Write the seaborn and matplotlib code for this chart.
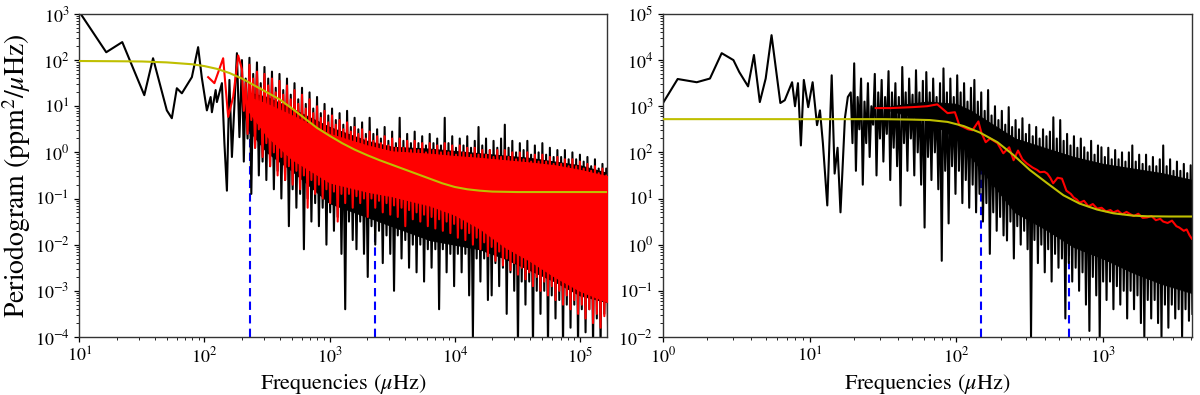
import numpy as np
import matplotlib
matplotlib.use("Agg")
import matplotlib.pyplot as plt
import seaborn as sns

# ---------------- data (log10 values) ----------------
# Left panel
L_black_low_logf = [1.0, 1.216, 1.344, 1.52, 1.59, 1.70, 1.74, 1.78, 1.82, 1.90, 1.95, 1.98, 2.02,
                    2.05, 2.06, 2.09, 2.10, 2.14, 2.16, 2.18, 2.20, 2.22, 2.26, 2.28]
L_black_low_logp = [3.05, 2.17, 2.39, 1.24, 2.04, 0.91, 0.74, 1.39, 1.28, 1.63, 2.28, 1.61, 0.91,
                    1.2, 0.87, 1.35, 1.09, 1.5, 0.2, -0.83, 1.57, -0.1, 2.15, 0.33]
L_dense_range = (2.30, 5.225)
L_black_peaks = [2.0, 1.6, 2.05, 1.7, 1.95, 1.5, 1.85, 1.6, 1.75, 1.4,
                 1.7, 1.35, 1.6, 1.25, 1.5, 1.15, 1.4, 1.05, 1.3, 0.95,
                 1.2, 0.85, 1.05, 0.8, 0.95, 0.7, 0.85, 0.6, 0.9, 0.55,
                 0.75, 0.5, 0.65, 0.4, 0.75, 0.4, 0.5, 0.3, 0.55, 0.25,
                 0.45, 0.2, 0.75, 0.25, 0.4, 0.2, 0.45, 0.2, 0.35, 0.15,
                 0.4, 0.2, 0.3, 0.15, 0.75, 0.2, 0.35, 0.1, 0.3, 0.15,
                 0.35, 0.1, 0.25, 0.55, 0.15, 0.3, 0.05, 0.25, 0.1, 0.3,
                 0.6, 0.1, 0.25, 0.0, 0.2, 0.05, 0.25, -0.05, 0.15, 0.0,
                 0.2, -0.05, 0.1, -0.1, 0.05, -0.1, 0.05, -0.15, 0.0, -0.15,
                 -0.05, -0.2, -0.1, -0.3, -0.15, -0.35, -0.25, -0.35]
L_black_troughs = [-0.2, 0.3, -0.9, 0.1, -0.5, -0.2, -0.6, -0.3, -0.8, -0.4,
                   -1.0, -0.6, -1.6, -0.8, -1.2, -0.9, -2.1, -1.0, -1.5, -1.1,
                   -1.6, -1.2, -2.0, -1.3, -1.7, -1.4, -2.2, -3.4, -1.5, -1.9,
                   -2.1, -1.5, -2.2, -2.7, -1.6, -2.0, -1.7, -2.4, -1.8, -2.2,
                   -3.0, -1.8, -2.3, -1.9, -2.5, -2.0, -2.6, -2.0, -2.8, -2.1,
                   -2.5, -2.1, -3.4, -2.1, -2.6, -2.2, -2.9, -2.2, -2.6, -2.2,
                   -3.1, -4.0, -2.3, -2.8, -2.3, -3.2, -3.1, -2.4, -2.9, -2.5,
                   -3.5, -2.6, -3.0, -4.2, -2.8, -3.3, -2.8, -4.2, -3.0, -3.5,
                   -3.0, -4.2, -3.1, -3.6, -3.2, -4.2, -3.3, -3.8, -3.3, -4.2,
                   -3.4, -3.9, -3.4, -4.2, -3.6, -4.2, -3.5, -3.9]
# solid core of the black band: log f, lower edge, upper edge
L_black_core_logf = [2.35, 2.5, 2.7, 3.0, 3.3, 3.5, 3.8, 4.0, 4.2, 4.4, 4.6, 4.8, 5.0, 5.225]
L_black_core_lo = [0.5, 0.0, -0.4, -1.1, -1.4, -1.6, -1.9, -2.0, -2.1, -2.3, -2.55, -2.8, -3.1, -3.25]
L_black_core_hi = [1.3, 1.2, 0.95, 0.55, 0.25, 0.12, 0.08, 0.03, -0.02, -0.07, -0.12, -0.2, -0.28, -0.45]
L_red_low_logf = [2.03, 2.08, 2.15, 2.19, 2.23, 2.27]
L_red_low_logp = [1.63, 1.5, 2.04, 0.77, 1.2, 2.1]
L_red_peaks = [1.8, 1.5, 1.9, 1.6, 1.75, 1.4, 1.7, 1.45, 1.6, 1.3,
               1.55, 1.25, 1.45, 1.15, 1.35, 1.05, 1.25, 0.95, 1.15, 0.85,
               1.0, 0.75, 0.9, 0.65, 0.8, 0.6, 0.7, 0.5, 0.65, 0.45,
               0.55, 0.4, 0.5, 0.3, 0.45, 0.25, 0.35, 0.2, 0.35, 0.15,
               0.3, 0.1, 0.3, 0.1, 0.25, 0.05, 0.25, 0.05, 0.2, 0.0,
               0.2, 0.05, 0.15, 0.0, 0.2, 0.0, 0.15, -0.05, 0.15, 0.0,
               0.1, -0.05, 0.1, -0.05, 0.05, -0.05, 0.05, -0.1, 0.05, -0.1,
               0.05, -0.1, 0.0, -0.15, 0.0, -0.15, 0.0, -0.2, -0.05, -0.2,
               -0.05, -0.2, -0.1, -0.25, -0.1, -0.25, -0.15, -0.3, -0.15, -0.3,
               -0.2, -0.35, -0.25, -0.4, -0.3, -0.45, -0.35, -0.5]
L_red_troughs = [0.9, 0.4, 0.7, 0.1, 0.5, -0.1, 0.2, -0.3, 0.0, -0.5,
                 -0.1, -0.6, -0.3, -0.7, -0.4, -0.8, -0.5, -1.2, -0.6, -0.9,
                 -0.7, -1.0, -0.8, -1.1, -0.85, -1.5, -0.9, -1.1, -0.9, -1.2,
                 -0.95, -1.1, -1.0, -1.4, -1.0, -1.2, -1.05, -1.3, -1.1, -1.35,
                 -1.15, -1.4, -1.2, -1.6, -1.25, -1.45, -1.3, -1.5, -1.35, -1.6,
                 -1.4, -1.65, -1.45, -1.7, -1.5, -1.75, -1.55, -1.85, -1.65, -1.9,
                 -1.75, -2.0, -1.85, -2.1, -1.95, -2.25, -2.05, -2.35, -2.15, -2.45,
                 -2.3, -2.55, -2.4, -2.65, -2.5, -2.75, -2.6, -2.9, -2.7, -3.0,
                 -2.8, -3.1, -2.9, -3.2, -3.0, -3.3, -3.1, -3.4, -3.2, -3.5,
                 -3.3, -3.6, -3.4, -3.7, -3.5, -3.8, -3.55, -3.8]
L_red_core_logf = [2.35, 2.5, 2.7, 3.0, 3.3, 3.5, 3.8, 4.0, 4.2, 4.4, 4.6, 4.8, 5.0, 5.225]
L_red_core_lo = [0.9, 0.35, -0.15, -0.65, -0.85, -0.95, -1.15, -1.35, -1.65, -2.05, -2.35, -2.7, -3.0, -3.25]
L_red_core_hi = [1.2, 1.05, 0.8, 0.4, 0.15, 0.02, -0.03, -0.08, -0.12, -0.17, -0.22, -0.28, -0.38, -0.52]
L_fit_logf = [1.0, 1.3, 1.5, 1.7, 1.9, 2.0, 2.1, 2.2, 2.3, 2.4, 2.5, 2.6, 2.7, 2.8, 2.9,
              3.0, 3.1, 3.2, 3.3, 3.4, 3.5, 3.6, 3.7, 3.8, 3.9, 4.0, 4.1, 4.2, 4.3, 4.5, 5.225]
L_fit_logp = [1.98, 1.975, 1.97, 1.95, 1.91, 1.87, 1.81, 1.72, 1.60, 1.45, 1.30, 1.15, 0.95,
              0.74, 0.53, 0.36, 0.20, 0.06, -0.06, -0.17, -0.27, -0.37, -0.47, -0.57, -0.67,
              -0.75, -0.80, -0.83, -0.85, -0.86, -0.86]
L_marks_freq = [230.0, 2300.0]
L_marks_top = [32.0, 0.75]

# Right panel
R_black_low_logf = [0.0, 0.10, 0.23, 0.32, 0.40, 0.48, 0.52, 0.58, 0.62, 0.66, 0.70, 0.74, 0.80,
                    0.83, 0.88, 0.90, 0.92, 0.94, 0.96, 0.99, 1.02, 1.05, 1.07, 1.09, 1.12, 1.15,
                    1.17, 1.19, 1.21, 1.24, 1.26]
R_black_low_logp = [3.07, 3.59, 3.52, 3.6, 4.15, 4.0, 3.74, 3.43, 4.11, 3.09, 3.6, 4.54, 3.07,
                    3.13, 3.52, 3.0, 3.5, 2.15, 3.57, 2.98, 3.52, 2.59, 2.91, 2.2, 0.85, 3.67,
                    1.54, 2.1, 0.7, 2.74, 3.2]
R_dense_range = (1.28, 3.609)
R_black_peaks = [3.3, 3.93, 3.2, 3.6, 3.1, 3.5, 3.0, 3.7, 3.3, 3.57,
                 3.2, 3.76, 3.3, 3.5, 3.2, 3.85, 3.3, 3.6, 3.25, 3.78,
                 3.3, 3.55, 3.74, 3.3, 3.6, 3.2, 3.5, 3.82, 3.3, 3.6,
                 3.2, 3.67, 3.3, 3.5, 3.1, 3.4, 3.57, 3.1, 3.3, 2.9,
                 3.35, 2.8, 3.0, 2.7, 2.9, 2.6, 2.98, 2.55, 2.7, 2.5,
                 2.74, 2.4, 2.6, 2.35, 2.55, 2.3, 2.5, 2.35, 2.45, 2.76,
                 2.3, 2.7, 2.25, 2.4, 2.15, 2.35, 2.1, 2.3, 2.11, 2.0,
                 2.25, 1.95, 2.15, 2.11, 1.9, 2.1, 1.85, 2.05, 1.85, 2.0,
                 1.8, 2.0, 2.15, 1.8, 1.95, 1.75, 1.95, 1.7, 1.9, 1.7,
                 1.85, 2.15, 1.7, 1.85, 1.6, 1.8, 1.6, 1.75, 1.55, 1.72]
R_black_troughs = [2.2, 1.6, 2.5, 1.3, 2.2, 1.9, 2.6, 1.5, 2.3, 1.8,
                   2.4, 1.4, 2.1, 1.7, 0.85, 2.2, 1.6, 2.3, 1.5, 2.0,
                   1.3, 0.37, 1.9, 1.4, 2.0, 1.2, -0.35, 1.6, 0.46, 1.7,
                   1.1, 1.6, 0.9, 1.4, 0.8, 1.3, 0.7, 1.1, 0.5, 0.9,
                   -0.2, 0.7, 0.3, 0.6, 0.2, 0.09, 0.5, -0.3, 0.4, 0.0,
                   0.3, -0.1, -2.0, 0.1, -0.4, 0.0, -0.6, -0.1, -0.8, -0.2,
                   -0.5, -0.3, -1.6, -0.4, -0.8, -0.5, -1.0, -0.6, -1.3, -1.87,
                   -0.7, -1.1, -2.0, -0.8, -1.2, -0.8, -1.4, -0.9, -1.3, -1.0,
                   -1.6, -1.0, -1.4, -1.1, -1.7, -2.0, -1.2, -1.6, -1.2, -1.7,
                   -2.0, -1.3, -1.8, -1.3, -1.6, -1.4, -2.0, -1.4, -1.65, -1.5]
R_black_core_logf = [1.55, 1.8, 2.0, 2.1, 2.2, 2.3, 2.4, 2.6, 2.8, 3.0, 3.2, 3.4, 3.609]
R_black_core_lo = [2.9, 2.7, 2.3, 1.9, 1.5, 1.1, 0.7, 0.35, -0.05, -0.3, -0.6, -0.85, -1.05]
R_black_core_hi = [3.0, 3.1, 3.05, 2.9, 2.7, 2.5, 2.3, 2.1, 1.9, 1.75, 1.65, 1.55, 1.4]
R_red_logf = [1.45, 1.55, 1.70, 1.80, 1.87, 1.94, 1.99, 2.02, 2.08, 2.11, 2.15, 2.17, 2.20, 2.23,
              2.28, 2.32, 2.36, 2.39, 2.42, 2.45, 2.48, 2.52, 2.55, 2.57, 2.60, 2.62, 2.64, 2.66,
              2.69, 2.72, 2.75, 2.78, 2.80, 2.82, 2.84, 2.87, 2.90, 2.93, 2.96, 2.99, 3.02, 3.05,
              3.07, 3.10, 3.13, 3.16, 3.18, 3.21, 3.24, 3.27, 3.30, 3.33, 3.36, 3.39, 3.41, 3.44,
              3.47, 3.50, 3.52, 3.55, 3.57, 3.59, 3.605]
R_red_logp = [2.96, 2.96, 2.98, 3.0, 3.04, 2.85, 2.87, 2.59, 2.5, 2.48, 2.67, 2.43, 2.22, 2.3,
              2.2, 1.98, 2.11, 1.83, 2.04, 1.85, 1.76, 1.67, 1.62, 1.57, 1.58, 1.54, 1.45, 1.33,
              1.45, 1.43, 1.17, 1.1, 1.02, 0.98, 0.91, 0.95, 0.83, 0.88, 0.78, 0.8, 0.72, 0.75,
              0.7, 0.74, 0.66, 0.71, 0.67, 0.62, 0.67, 0.58, 0.59, 0.62, 0.53, 0.56, 0.5, 0.47,
              0.52, 0.4, 0.37, 0.3, 0.33, 0.2, 0.13]
R_fit_logf = [0.0, 1.0, 1.5, 1.7, 1.82, 1.94, 2.05, 2.16, 2.28, 2.39, 2.5, 2.62, 2.73, 2.84,
              2.96, 3.07, 3.2, 3.3, 3.45, 3.61]
R_fit_logp = [2.72, 2.72, 2.72, 2.71, 2.70, 2.66, 2.57, 2.43, 2.22, 1.94, 1.62, 1.33, 1.07,
              0.89, 0.76, 0.68, 0.63, 0.615, 0.61, 0.61]
R_marks_freq = [148.0, 590.0]
R_marks_top = [260.0, 9.5]


def dense_series(rng, peaks, troughs):
    n = min(len(peaks), len(troughs))
    logf = np.linspace(rng[0], rng[1], 2 * n)
    logp = np.empty(2 * n)
    logp[0::2] = peaks[:n]
    logp[1::2] = troughs[:n]
    return logf, logp


def p10(v):
    return 10 ** np.asarray(v, dtype=float)


# ---------------- style ----------------
plt.rcParams["font.family"] = ["STIXGeneral", "DejaVu Serif"]
plt.rcParams["mathtext.fontset"] = "stix"
plt.rcParams["axes.linewidth"] = 1.0
plt.rcParams["axes.edgecolor"] = "#333333"

fig = plt.figure(figsize=(12, 3.95), dpi=100)
axL = fig.add_axes([0.066, 0.147, 0.4398, 0.8177])
axR = fig.add_axes([0.5525, 0.147, 0.4408, 0.8177])

lw = 1.5


def draw(ax, low_f, low_p, rng, peaks, troughs, core, red_f, red_p, red_core,
         fit_f, fit_p, marks_f, marks_top, ymin):
    ax.set_xscale("log")
    ax.set_yscale("log")
    df, dp = dense_series(rng, peaks, troughs)
    bf = p10(np.concatenate([low_f, df]))
    bp = p10(np.concatenate([low_p, dp]))
    ax.vlines(marks_f, ymin, marks_top, colors="blue", linestyles=(0, (4, 2.5)), lw=1.5, zorder=1)
    sns.lineplot(x=bf, y=bp, ax=ax, color="black", lw=lw, estimator=None, sort=False, zorder=2)
    ax.fill_between(p10(core[0]), p10(core[1]), p10(core[2]), color="black", lw=0.8, zorder=2)
    sns.lineplot(x=p10(red_f), y=p10(red_p), ax=ax, color="red", lw=lw,
                 estimator=None, sort=False, zorder=3)
    if red_core is not None:
        ax.fill_between(p10(red_core[0]), p10(red_core[1]), p10(red_core[2]),
                        color="red", lw=0.8, zorder=3)
    sns.lineplot(x=p10(fit_f), y=p10(fit_p), ax=ax, color="y", lw=1.5,
                 estimator=None, sort=False, zorder=4)


lrf, lrp = dense_series(L_dense_range, L_red_peaks, L_red_troughs)
draw(axL, L_black_low_logf, L_black_low_logp, L_dense_range, L_black_peaks, L_black_troughs,
     (L_black_core_logf, L_black_core_lo, L_black_core_hi),
     np.concatenate([L_red_low_logf, lrf]), np.concatenate([L_red_low_logp, lrp]),
     (L_red_core_logf, L_red_core_lo, L_red_core_hi),
     L_fit_logf, L_fit_logp, L_marks_freq, L_marks_top, 1e-4)
draw(axR, R_black_low_logf, R_black_low_logp, R_dense_range, R_black_peaks, R_black_troughs,
     (R_black_core_logf, R_black_core_lo, R_black_core_hi),
     R_red_logf, R_red_logp, None, R_fit_logf, R_fit_logp, R_marks_freq, R_marks_top, 1e-2)

axL.set_xlim(10, 10 ** 5.216)
axL.set_ylim(1e-4, 1e3)
axR.set_xlim(1, 10 ** 3.606)
axR.set_ylim(1e-2, 1e5)

for ax in (axL, axR):
    ax.set_xlabel(r"Frequencies ($\mu$Hz)", fontsize=16, labelpad=4)
    ax.tick_params(axis="both", which="major", labelsize=13, length=3.5, width=0.9)
    ax.tick_params(axis="both", which="minor", length=2, width=0.6)
    ax.set_ylabel("")
axL.set_ylabel(r"Periodogram (ppm$^2$/$\mu$Hz)", fontsize=20, labelpad=1)

fig.savefig("out.png", dpi=100)
